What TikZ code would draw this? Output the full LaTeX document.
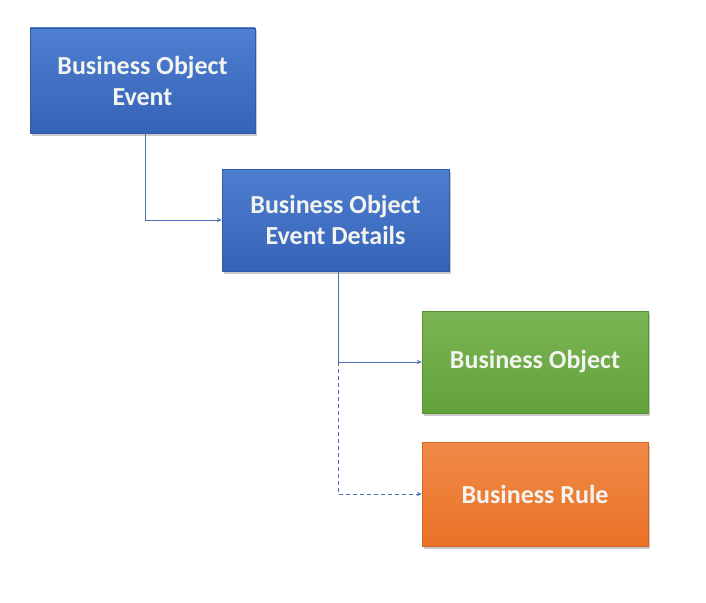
\documentclass[tikz,border=0pt]{standalone}
\usepackage{fontspec}
\setmainfont{Carlito}
\usetikzlibrary{shadows,arrows.meta}
\definecolor{bluetop}{HTML}{4F7FD0}
\definecolor{bluebot}{HTML}{3563B8}
\definecolor{greentop}{HTML}{7BB555}
\definecolor{greenbot}{HTML}{62A23A}
\definecolor{orangetop}{HTML}{F08A48}
\definecolor{orangebot}{HTML}{EA7127}
\definecolor{linec}{HTML}{4A6FB5}
\definecolor{txt}{HTML}{F3F4F0}
\begin{document}
\begin{tikzpicture}[x=1pt,y=-1pt,
  boxbase/.style={rectangle,minimum width=226pt,minimum height=103pt,inner sep=0pt,
    text=txt,font=\fontsize{26}{31}\selectfont\bfseries,align=center,
    drop shadow={shadow xshift=1.5pt,shadow yshift=-2.5pt,opacity=0.35,fill=black!60}},
  bluebox/.style={boxbase,top color=bluetop,bottom color=bluebot,draw=bluebot!90!black,line width=0.3pt},
  greenbox/.style={boxbase,top color=greentop,bottom color=greenbot,draw=greenbot!90!black,line width=0.3pt},
  orangebox/.style={boxbase,top color=orangetop,bottom color=orangebot,draw=orangebot!90!black,line width=0.3pt},
  conn/.style={draw=linec,line width=0.9pt,-{Stealth[length=5pt,width=4pt]}},
  dconn/.style={conn,dash pattern=on 4pt off 3pt}]
\useasboundingbox[fill=white] (0,0) rectangle (706,602);
\node[bluebox,minimum width=225pt,minimum height=105pt] (boe) at (142.5,80.5) {Business Object\\Event};
\node[bluebox,minimum width=227pt,minimum height=102pt] (boed) at (335.5,220) {Business Object\\Event Details};
\node[greenbox,minimum height=102pt] (bo) at (535,362) {Business Object};
\node[orangebox,minimum height=104pt] (br) at (535,494) {Business Rule};
\coordinate (j1) at (145,220);
\coordinate (j2) at (338,362);
\coordinate (j3) at (338,494);
\draw[conn] (boe.south -| j1) -- (j1) -- (boed.west);
\draw[conn] (boed.south -| j2) -- (j2) -- (bo.west);
\draw[dconn] (j2) -- (j3) -- (br.west);
\end{tikzpicture}
\end{document}
